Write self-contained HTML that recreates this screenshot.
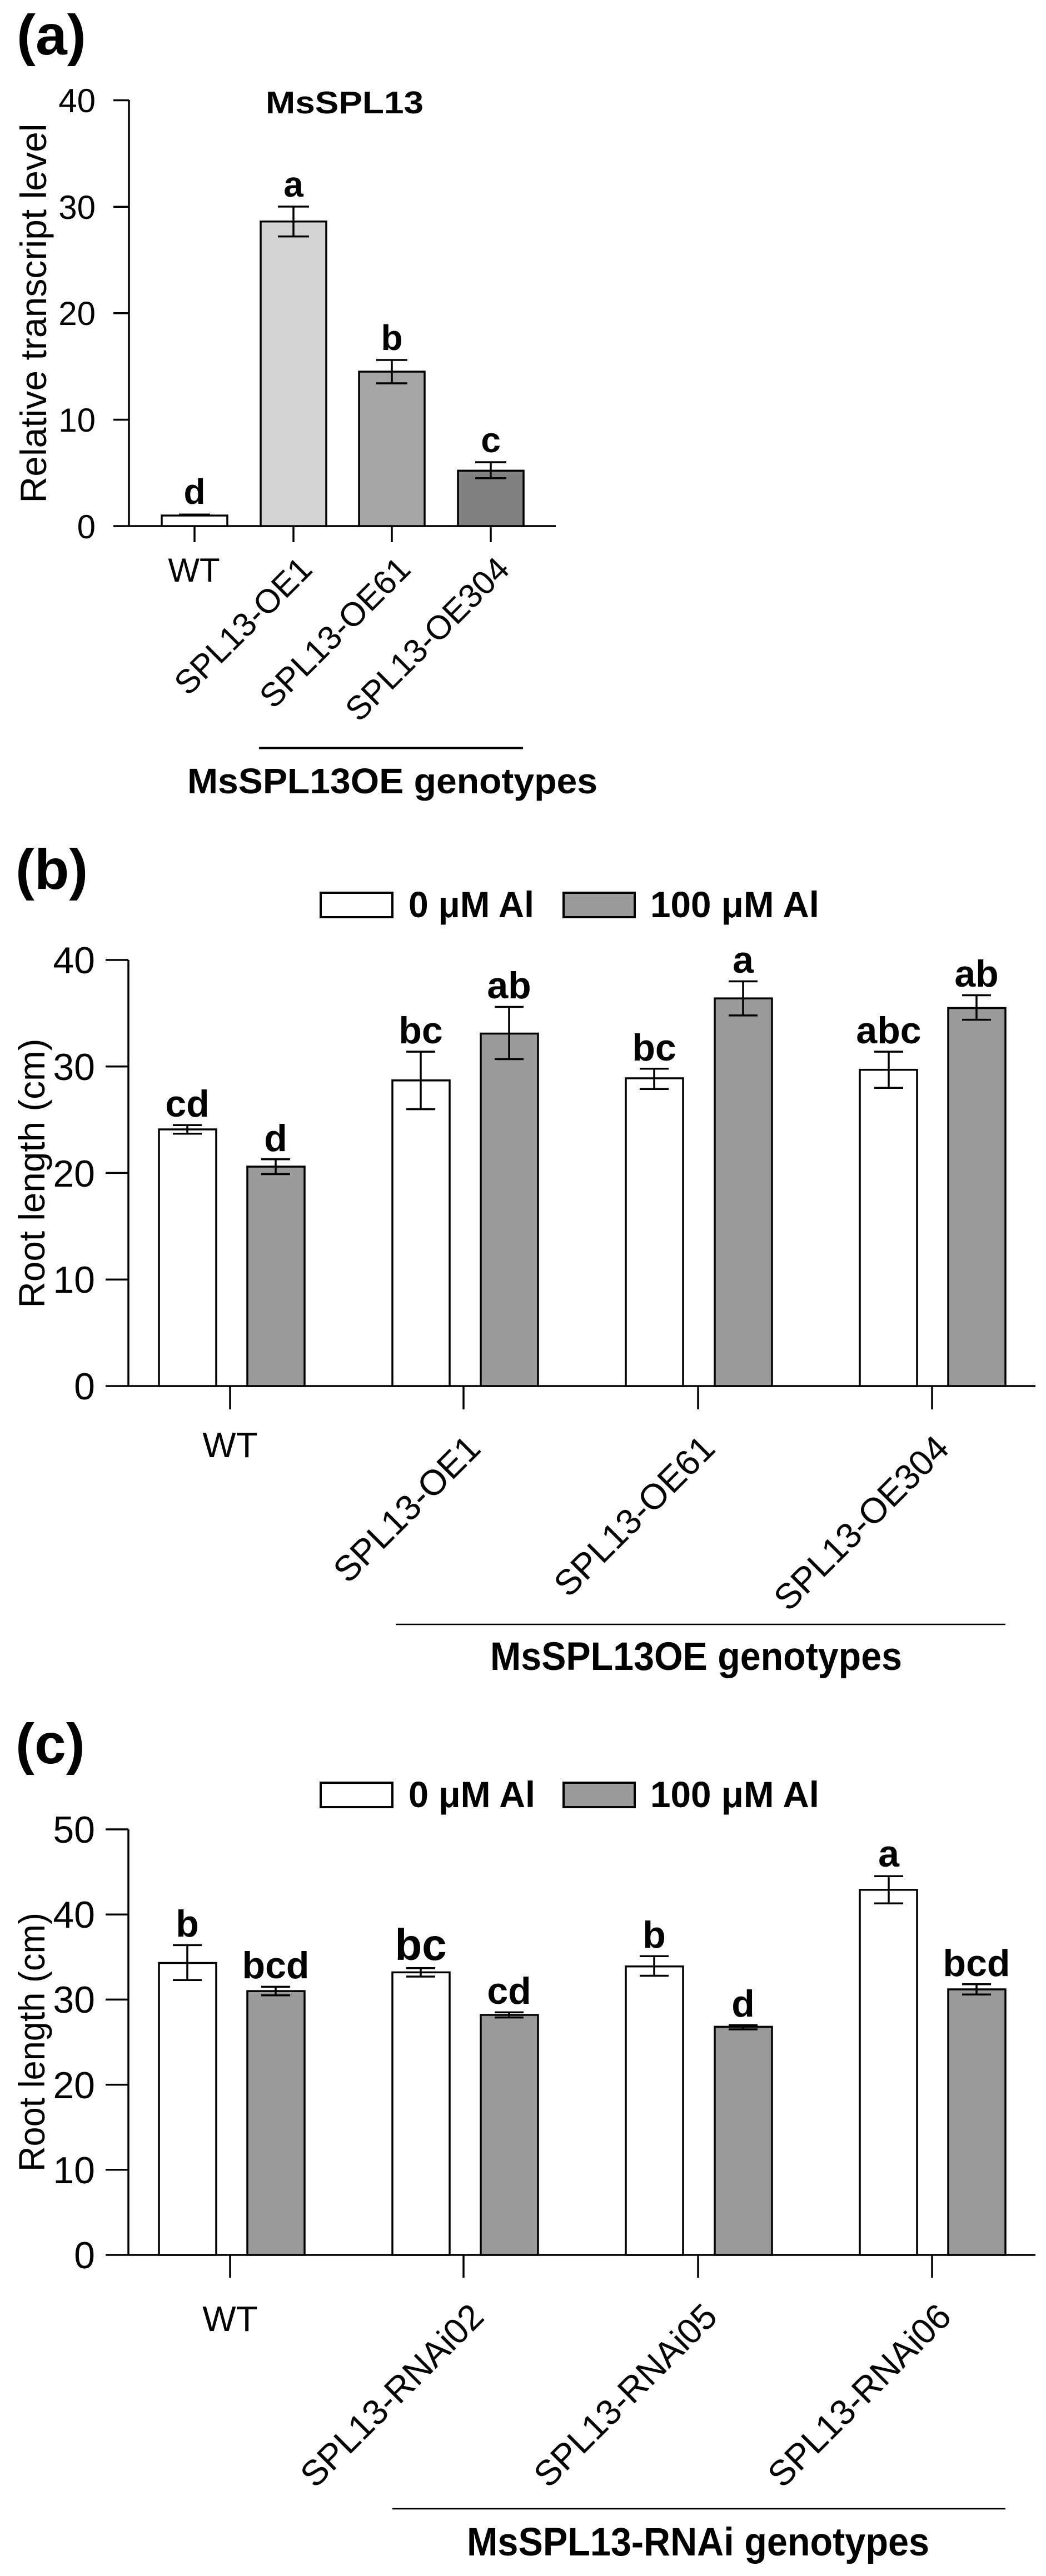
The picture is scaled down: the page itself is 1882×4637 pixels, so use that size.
<!DOCTYPE html>
<html><head><meta charset="utf-8"><style>html,body{margin:0;padding:0;background:#fff}svg{display:block}</style></head>
<body>
<svg xmlns="http://www.w3.org/2000/svg" width="1882" height="4637" viewBox="0 0 1882 4637" font-family="Liberation Sans, Arial, sans-serif">
<rect width="1882" height="4637" fill="#fff"/>

<!-- ============ (a) ============ -->
<text x="30" y="98" font-size="102" font-weight="bold">(a)</text>
<text x="478" y="204" font-size="57" font-weight="bold" textLength="284" lengthAdjust="spacingAndGlyphs">MsSPL13</text>
<g stroke="#000" stroke-width="3.5" fill="none">
<line x1="232" y1="180" x2="232" y2="947"/>
<line x1="204" y1="947" x2="1000" y2="947"/>
<line x1="204" y1="180.5" x2="232" y2="180.5"/>
<line x1="204" y1="372.2" x2="232" y2="372.2"/>
<line x1="204" y1="563.8" x2="232" y2="563.8"/>
<line x1="204" y1="755.5" x2="232" y2="755.5"/>
<line x1="350" y1="947" x2="350" y2="976"/>
<line x1="528" y1="947" x2="528" y2="976"/>
<line x1="705" y1="947" x2="705" y2="976"/>
<line x1="883" y1="947" x2="883" y2="976"/>
</g>
<g font-size="60" text-anchor="end">
<text x="172" y="202">40</text><text x="172" y="394">30</text><text x="172" y="585">20</text><text x="172" y="777">10</text><text x="172" y="969">0</text>
</g>
<text transform="translate(83,564) rotate(-90)" font-size="66" text-anchor="middle" textLength="683" lengthAdjust="spacingAndGlyphs">Relative transcript level</text>
<g stroke="#000" stroke-width="3.5">
<rect x="291" y="928" width="118" height="19" fill="#fff"/>
<rect x="469" y="398.7" width="118" height="548.3" fill="#d4d4d4"/>
<rect x="646" y="669" width="118" height="278" fill="#a5a5a5"/>
<rect x="824" y="847.3" width="118" height="99.7" fill="#808080"/>
<line x1="322" y1="927" x2="378" y2="927" stroke-width="5"/>
<path d="M500,371.9H556M500,425.6H556M528,371.9V425.6" fill="none"/>
<path d="M677,648H733M677,690H733M705,648V690" fill="none"/>
<path d="M855,832H911M855,860.7H911M883,832V860.7" fill="none"/>
</g>
<g font-size="64" font-weight="bold" text-anchor="middle">
<text x="350" y="907">d</text><text x="528" y="354">a</text><text x="705" y="630">b</text><text x="883" y="814">c</text>
</g>
<text x="349" y="1047" font-size="60" text-anchor="middle">WT</text>
<g font-size="60" text-anchor="end">
<text transform="translate(565,1028) rotate(-45)">SPL13-OE1</text>
<text transform="translate(742,1028) rotate(-45)">SPL13-OE61</text>
<text transform="translate(920,1028) rotate(-45)">SPL13-OE304</text>
</g>
<line x1="466" y1="1346.5" x2="941" y2="1346.5" stroke="#000" stroke-width="4"/>
<text x="337" y="1428" font-size="64" font-weight="bold" textLength="738" lengthAdjust="spacingAndGlyphs">MsSPL13OE genotypes</text>

<!-- ============ (b) ============ -->
<text x="28" y="1600" font-size="102" font-weight="bold">(b)</text>
<rect x="577" y="1607" width="129" height="44" fill="#fff" stroke="#000" stroke-width="4"/>
<text x="735" y="1651" font-size="66" font-weight="bold" textLength="226" lengthAdjust="spacingAndGlyphs">0 μM Al</text>
<rect x="1014" y="1607" width="128" height="44" fill="#9b9b9b" stroke="#000" stroke-width="4"/>
<text x="1170" y="1651" font-size="66" font-weight="bold" textLength="304" lengthAdjust="spacingAndGlyphs">100 μM Al</text>
<g stroke="#000" stroke-width="3.5" fill="none">
<line x1="231" y1="1728" x2="231" y2="2495"/>
<line x1="190" y1="2495" x2="1863" y2="2495"/>
<line x1="190" y1="1728" x2="231" y2="1728"/>
<line x1="190" y1="1919.7" x2="231" y2="1919.7"/>
<line x1="190" y1="2111.4" x2="231" y2="2111.4"/>
<line x1="190" y1="2303.2" x2="231" y2="2303.2"/>
<line x1="414" y1="2495" x2="414" y2="2537"/>
<line x1="834" y1="2495" x2="834" y2="2537"/>
<line x1="1256" y1="2495" x2="1256" y2="2537"/>
<line x1="1677" y1="2495" x2="1677" y2="2537"/>
</g>
<g font-size="68" text-anchor="end">
<text x="171" y="1752">40</text><text x="171" y="1944">30</text><text x="171" y="2136">20</text><text x="171" y="2327">10</text><text x="171" y="2519">0</text>
</g>
<text transform="translate(80,2112) rotate(-90)" font-size="66" text-anchor="middle" textLength="485" lengthAdjust="spacingAndGlyphs">Root length (cm)</text>
<g stroke="#000" stroke-width="3.5">
<rect x="286" y="2033" width="103" height="462" fill="#fff"/>
<rect x="445" y="2100" width="103" height="395" fill="#9a9a9a"/>
<rect x="706" y="1944.8" width="103" height="550.2" fill="#fff"/>
<rect x="865" y="1860.5" width="103" height="634.5" fill="#9a9a9a"/>
<rect x="1126" y="1941" width="103" height="554" fill="#fff"/>
<rect x="1286" y="1797.2" width="103" height="697.8" fill="#9a9a9a"/>
<rect x="1547" y="1925.7" width="103" height="569.3" fill="#fff"/>
<rect x="1706" y="1814.5" width="103" height="680.5" fill="#9a9a9a"/>
<g fill="none">
<path d="M311,2025.3H363M311,2040.7H363M337,2025.3V2040.7"/>
<path d="M470,2086.7H522M470,2113.5H522M496,2086.7V2113.5"/>
<path d="M731,1893.1H783M731,1996.6H783M757,1893.1V1996.6"/>
<path d="M890,1812.5H942M890,1906.5H942M916,1812.5V1906.5"/>
<path d="M1151,1923.7H1203M1151,1960.2H1203M1177,1923.7V1960.2"/>
<path d="M1311,1766.5H1363M1311,1827.9H1363M1337,1766.5V1827.9"/>
<path d="M1573,1893.1H1625M1573,1958.2H1625M1599,1893.1V1958.2"/>
<path d="M1731,1791.5H1783M1731,1835.6H1783M1757,1791.5V1835.6"/>
</g>
</g>
<g font-size="68" font-weight="bold" text-anchor="middle">
<text x="337" y="2010">cd</text><text x="496" y="2072">d</text>
<text x="757" y="1878">bc</text><text x="916" y="1797">ab</text>
<text x="1177" y="1909">bc</text><text x="1337" y="1751">a</text>
<text x="1599" y="1878">abc</text><text x="1757" y="1776">ab</text>
</g>
<text x="414" y="2623" font-size="64" text-anchor="middle">WT</text>
<g font-size="64" text-anchor="end">
<text transform="translate(868,2611) rotate(-45)">SPL13-OE1</text>
<text transform="translate(1290,2611) rotate(-45)">SPL13-OE61</text>
<text transform="translate(1711,2611) rotate(-45)">SPL13-OE304</text>
</g>
<line x1="712" y1="2924" x2="1809" y2="2924" stroke="#000" stroke-width="2.5"/>
<text x="882" y="3006" font-size="71" font-weight="bold" textLength="741" lengthAdjust="spacingAndGlyphs">MsSPL13OE genotypes</text>

<!-- ============ (c) ============ -->
<text x="28" y="3174" font-size="102" font-weight="bold">(c)</text>
<rect x="577" y="3209" width="129" height="44" fill="#fff" stroke="#000" stroke-width="4"/>
<text x="735" y="3253" font-size="66" font-weight="bold" textLength="228" lengthAdjust="spacingAndGlyphs">0 μM Al</text>
<rect x="1014" y="3209" width="128" height="44" fill="#9b9b9b" stroke="#000" stroke-width="4"/>
<text x="1170" y="3253" font-size="66" font-weight="bold" textLength="304" lengthAdjust="spacingAndGlyphs">100 μM Al</text>
<g stroke="#000" stroke-width="3.5" fill="none">
<line x1="231" y1="3293" x2="231" y2="4059"/>
<line x1="190" y1="4059" x2="1863" y2="4059"/>
<line x1="190" y1="3293" x2="231" y2="3293"/>
<line x1="190" y1="3446.2" x2="231" y2="3446.2"/>
<line x1="190" y1="3599.4" x2="231" y2="3599.4"/>
<line x1="190" y1="3752.6" x2="231" y2="3752.6"/>
<line x1="190" y1="3905.8" x2="231" y2="3905.8"/>
<line x1="414" y1="4059" x2="414" y2="4100"/>
<line x1="834" y1="4059" x2="834" y2="4100"/>
<line x1="1256" y1="4059" x2="1256" y2="4100"/>
<line x1="1677" y1="4059" x2="1677" y2="4100"/>
</g>
<g font-size="68" text-anchor="end">
<text x="171" y="3317">50</text><text x="171" y="3470">40</text><text x="171" y="3623">30</text><text x="171" y="3777">20</text><text x="171" y="3930">10</text><text x="171" y="4083">0</text>
</g>
<text transform="translate(80,3676) rotate(-90)" font-size="66" text-anchor="middle" textLength="466" lengthAdjust="spacingAndGlyphs">Root length (cm)</text>
<g stroke="#000" stroke-width="3.5">
<rect x="286" y="3533.5" width="103" height="525.5" fill="#fff"/>
<rect x="445" y="3584.1" width="103" height="474.9" fill="#9a9a9a"/>
<rect x="706" y="3550.4" width="103" height="508.6" fill="#fff"/>
<rect x="865" y="3627" width="103" height="432" fill="#9a9a9a"/>
<rect x="1126" y="3539.7" width="103" height="519.3" fill="#fff"/>
<rect x="1286" y="3648.4" width="103" height="410.6" fill="#9a9a9a"/>
<rect x="1547" y="3401.8" width="103" height="657.2" fill="#fff"/>
<rect x="1706" y="3581" width="103" height="478" fill="#9a9a9a"/>
<g fill="none">
<path d="M311,3501.4H363M311,3564.2H363M337,3501.4V3564.2"/>
<path d="M470,3576.4H522M470,3591.7H522M496,3576.4V3591.7"/>
<path d="M731,3542.7H783M731,3558H783M757,3542.7V3558"/>
<path d="M890,3622.4H942M890,3631.6H942M916,3622.4V3631.6"/>
<path d="M1151,3521.3H1203M1151,3556.5H1203M1177,3521.3V3556.5"/>
<path d="M1311,3645.4H1363M1311,3653H1363M1337,3645.4V3653"/>
<path d="M1573,3377.3H1625M1573,3426.3H1625M1599,3377.3V3426.3"/>
<path d="M1731,3571.8H1783M1731,3590.2H1783M1757,3571.8V3590.2"/>
</g>
</g>
<g font-size="68" font-weight="bold" text-anchor="middle">
<text x="337" y="3486">b</text><text x="496" y="3561">bcd</text>
<text x="757" y="3528" font-size="80">bc</text><text x="916" y="3607">cd</text>
<text x="1177" y="3506">b</text><text x="1337" y="3630">d</text>
<text x="1599" y="3360">a</text><text x="1757" y="3557">bcd</text>
</g>
<text x="414" y="4196" font-size="64" text-anchor="middle">WT</text>
<g font-size="64" text-anchor="end">
<text transform="translate(874,4174) rotate(-45)">SPL13-RNAi02</text>
<text transform="translate(1294,4174) rotate(-45)">SPL13-RNAi05</text>
<text transform="translate(1715,4174) rotate(-45)">SPL13-RNAi06</text>
</g>
<line x1="706" y1="4516" x2="1809" y2="4516" stroke="#000" stroke-width="2.5"/>
<text x="840" y="4600" font-size="71" font-weight="bold" textLength="832" lengthAdjust="spacingAndGlyphs">MsSPL13-RNAi genotypes</text>
</svg>
</body></html>
